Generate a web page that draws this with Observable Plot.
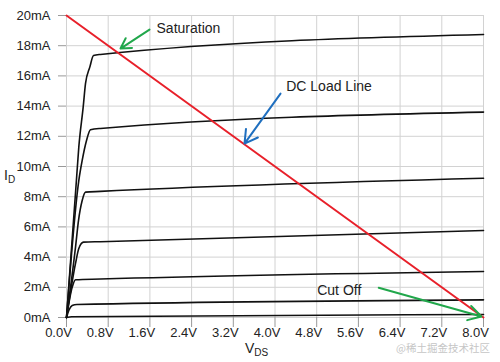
<!DOCTYPE html>
<html><head><meta charset="utf-8">
<script src="https://cdn.jsdelivr.net/npm/d3@7"></script>
<script src="https://cdn.jsdelivr.net/npm/@observablehq/plot@0.6"></script>
<style>
body{margin:0;background:#fff;}
#wrap{position:relative;width:500px;height:362px;}
#wm{position:absolute;left:396px;top:342px;font:10.5px "Noto Sans CJK SC",sans-serif;line-height:11px;color:#c6c6c6;white-space:nowrap;z-index:2;}
</style></head><body><div id="wrap"></div>
<script>
// Tick values
const xTicks = [0, 0.8, 1.6, 2.4, 3.2, 4.0, 4.8, 5.6, 6.4, 7.2, 8.0];
const yTicks = [0, 2, 4, 6, 8, 10, 12, 14, 16, 18, 20];

// Output characteristic curves (V_DS in volts, I_D in mA)
const curve1V = [0, 0.19, 0.236, 0.32, 0.365, 0.447, 0.518, 0.65, 8];
const curve1I = [0, 9.07, 11.28, 13.93, 15.5, 16.58, 17.35, 17.42, 18.74];
const curve2V = [0, 0.236, 0.301, 0.384, 0.46, 0.65, 8];
const curve2I = [0, 9.07, 10.4, 11.72, 12.43, 12.52, 13.6];
const curve3V = [0, 0.173, 0.23, 0.301, 0.365, 0.65, 8];
const curve3I = [0, 4.66, 6.42, 7.75, 8.3, 8.35, 9.22];
const curve4V = [0, 0.173, 0.236, 0.326, 0.65, 8];
const curve4I = [0, 3.58, 4.57, 4.99, 5.02, 5.76];
const curve5V = [0, 0.109, 0.173, 0.65, 8];
const curve5I = [0, 2.0, 2.5, 2.55, 3.05];
const curve6V = [0, 0.044, 0.109, 0.2, 8];
const curve6I = [0, 0.46, 0.79, 0.86, 1.17];
const curve7V = [0, 0.1, 8];
const curve7I = [0, 0.05, 0.2];

// DC load line endpoints
const loadV = [0, 8];
const loadI = [20, 0];

// Annotations
const labelText = ["Saturation", "DC Load Line", "Cut Off"];
const labelV = [1.727, 4.215, 4.81];
const labelI = [19.11, 15.33, 1.755];
const arrowFromV = [1.592, 4.106, 5.99];
const arrowFromI = [19.07, 14.83, 1.97];
const arrowToV = [1.036, 3.415, 7.96];
const arrowToI = [17.81, 11.52, 0.066];
const arrowColor = ["#21a74b", "#1f6fbf", "#21a74b"];

const curvesV = [curve1V, curve2V, curve3V, curve4V, curve5V, curve6V, curve7V];
const curvesI = [curve1I, curve2I, curve3I, curve4I, curve5I, curve6I, curve7I];
const curveRows = curvesV.flatMap((vs, k) => vs.map((v, j) => ({curve: k, v, i: curvesI[k][j]})));
const loadRows = loadV.map((v, j) => ({v, i: loadI[j]}));
const labelRows = labelText.map((t, j) => ({t, v: labelV[j], i: labelI[j]}));
const arrowRows = arrowFromV.map((v, j) => ({v1: v, i1: arrowFromI[j], v2: arrowToV[j], i2: arrowToI[j], c: arrowColor[j]}));

const plot = Plot.plot({
  width: 500, height: 362,
  marginLeft: 66, marginRight: 17, marginTop: 15, marginBottom: 45,
  style: {fontFamily: '"Liberation Sans", Arial, sans-serif', fontSize: "13px", color: "#222", background: "#fff"},
  x: {domain: [0, 8]},
  y: {domain: [0, 20]},
  marks: [
    Plot.gridX(xTicks, {stroke: "#d2d2d2", strokeOpacity: 1}),
    Plot.gridY(yTicks, {stroke: "#d2d2d2", strokeOpacity: 1}),
    Plot.axisY(yTicks, {tickSize: 8, tickPadding: 8, tickFormat: d => d + "mA", stroke: "#999", fill: "#222", label: null}),
    Plot.axisX(xTicks, {tickSize: 10, tickFormat: () => "", stroke: "#999", label: null}),
    Plot.axisX(xTicks, {tickSize: 0, tickPadding: 10, dx: -8, tickFormat: d => d.toFixed(1) + "V", fill: "#222", label: null}),
    Plot.line(curveRows, {x: "v", y: "i", z: "curve", curve: "monotone-x", stroke: "#111", strokeWidth: 1.6}),
    Plot.line(loadRows, {x: "v", y: "i", stroke: "#e8202a", strokeWidth: 2}),
    Plot.arrow(arrowRows, {x1: "v1", y1: "i1", x2: "v2", y2: "i2", stroke: "c", strokeWidth: 2, headLength: 11}),
    Plot.text(labelRows, {x: "v", y: "i", text: "t", textAnchor: "start", fontSize: 14, fill: "#222"})
  ]
});

const svg = d3.select(plot);
const t1 = svg.append("text").attr("x", 4).attr("y", 180).attr("fill", "#222").attr("text-anchor", "start")
  .style("font-size", "14px").style("font-family", '"Liberation Sans", Arial, sans-serif');
t1.append("tspan").text("I");
t1.append("tspan").attr("dy", 3).style("font-size", "10px").text("D");
const t2 = svg.append("text").attr("x", 245).attr("y", 353).attr("fill", "#222").attr("text-anchor", "start")
  .style("font-size", "14px").style("font-family", '"Liberation Sans", Arial, sans-serif');
t2.append("tspan").text("V");
t2.append("tspan").attr("dy", 3).style("font-size", "10px").text("DS");

const wrap = document.getElementById("wrap");
wrap.appendChild(plot);
const wm = document.createElement("div");
wm.id = "wm";
wm.textContent = "@稀土掘金技术社区";
wrap.appendChild(wm);
</script>
</body></html>
